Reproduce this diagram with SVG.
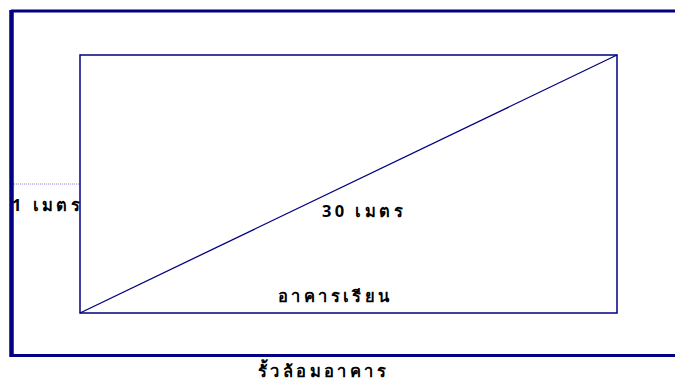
<svg xmlns="http://www.w3.org/2000/svg" width="675" height="380" viewBox="0 0 675 380">
<style>
.lbl{font-family:"Noto Sans","DejaVu Sans","Liberation Sans",sans-serif;font-size:16.5px;font-weight:bold;fill:#000;letter-spacing:3.4px}
.ln{stroke:#000080;fill:none}
</style>
<rect width="675" height="380" fill="#fff"/>
<g id="fence">
<line class="ln" x1="11.5" y1="10" x2="11.5" y2="357" stroke-width="4.5"/>
<line class="ln" x1="11" y1="11" x2="675" y2="11" stroke-width="3"/>
<line class="ln" x1="11" y1="355.5" x2="675" y2="355.5" stroke-width="3"/>
<text class="lbl" x="258" y="377">รั้วล้อมอาคาร</text>
</g>
<g id="building">
<rect class="ln" x="80" y="55" width="537" height="258" stroke-width="1.5"/>
<text class="lbl" x="278" y="302">อาคารเรียน</text>
</g>
<g id="connectors">
<line class="ln" x1="80" y1="313" x2="617" y2="55" stroke-width="1.3"/>
<line x1="14" y1="184" x2="80" y2="184" stroke="#6666cc" stroke-width="0.8" stroke-dasharray="1 1"/>
</g>
<text class="lbl" x="12" y="211">1 เมตร</text>
<text class="lbl" x="322" y="217">30 เมตร</text>
</svg>
